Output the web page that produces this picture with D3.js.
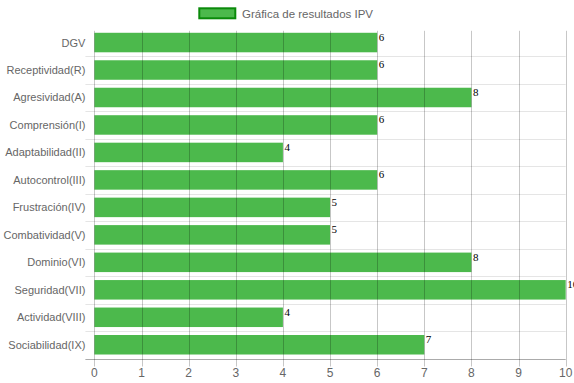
<!DOCTYPE html>
<html><head><meta charset="utf-8">
<script src="https://cdn.jsdelivr.net/npm/d3@7"></script>
<style>body{margin:0;background:#fff}svg{display:block}</style>
</head><body>
<script>
const categories = ["DGV","Receptividad(R)","Agresividad(A)","Comprensión(I)","Adaptabilidad(II)","Autocontrol(III)","Frustración(IV)","Combatividad(V)","Dominio(VI)","Seguridad(VII)","Actividad(VIII)","Sociabilidad(IX)"];
const values = [6,6,8,6,4,6,5,5,8,10,4,7];
const xTicks = [0,1,2,3,4,5,6,7,8,9,10];
const seriesName = "Gráfica de resultados IPV";

const W = 574, H = 383;
const m = {left: 94.4, right: 8.3, top: 28.8, bottom: 24.5};
const svg = d3.select("body").append("svg").attr("width", W).attr("height", H);
const x = d3.scaleLinear().domain([0,10]).range([m.left, W - m.right]);
const y = d3.scaleBand().domain(categories).range([m.top, H - m.bottom]);
const barH = y.bandwidth() * 0.71;
const font = "Arial, 'Liberation Sans', sans-serif";

// horizontal grid lines (category boundaries)
const bounds = d3.range(categories.length + 1).map(i => m.top + i * y.step());
svg.append("g").selectAll("line").data(bounds.slice(1)).join("line")
  .attr("x1", m.left - 9).attr("x2", W - m.right)
  .attr("y1", d => Math.round(d) + 0.5).attr("y2", d => Math.round(d) + 0.5)
  .attr("stroke", "rgba(0,0,0,0.1)");

// bars
svg.append("g").selectAll("rect").data(values).join("rect")
  .attr("x", x(0))
  .attr("y", (d,i) => y(categories[i]) + (y.bandwidth() - barH) / 2)
  .attr("width", d => x(d) - x(0))
  .attr("height", barH)
  .attr("fill", "rgba(0,155,0,0.7)");

// vertical grid lines on top
svg.append("g").selectAll("line").data(xTicks).join("line")
  .attr("x1", d => Math.round(x(d)) + 0.5).attr("x2", d => Math.round(x(d)) + 0.5)
  .attr("y1", m.top + 2).attr("y2", H - m.bottom + 8)
  .attr("stroke", "rgba(0,0,0,0.22)");

// x axis line
svg.append("line")
  .attr("x1", m.left - 9).attr("x2", W - m.right)
  .attr("y1", Math.round(H - m.bottom) + 0.5).attr("y2", Math.round(H - m.bottom) + 0.5)
  .attr("stroke", "rgba(0,0,0,0.25)");

// x tick labels
svg.append("g").selectAll("text").data(xTicks).join("text")
  .attr("x", d => x(d)).attr("y", H - m.bottom + 18)
  .attr("text-anchor", "middle")
  .attr("font-family", font).attr("font-size", 12).attr("fill", "#666")
  .text(d => d);

// y labels
svg.append("g").selectAll("text").data(categories).join("text")
  .attr("x", m.left - 9).attr("y", d => y(d) + y.bandwidth() / 2 + 4)
  .attr("text-anchor", "end")
  .attr("font-family", font).attr("font-size", 11).attr("fill", "#666")
  .text(d => d);

// value labels
svg.append("g").selectAll("text").data(values).join("text")
  .attr("x", d => x(d) + 1.5)
  .attr("y", (d,i) => y(categories[i]) + (y.bandwidth() - barH) / 2 + 8)
  .attr("font-family", "'Liberation Serif', 'Times New Roman', serif").attr("font-size", 11).attr("fill", "#000")
  .text(d => d);

// legend
const lg = svg.append("g");
lg.append("rect").attr("x", 199.3).attr("y", 8.3).attr("width", 36).attr("height", 10)
  .attr("fill", "rgba(0,155,0,0.7)").attr("stroke", "#0a8a0a").attr("stroke-width", 2);
lg.append("text").attr("x", 242).attr("y", 17.5)
  .attr("font-family", font).attr("font-size", 11.5).attr("fill", "#666")
  .text(seriesName);
</script>
</body></html>
